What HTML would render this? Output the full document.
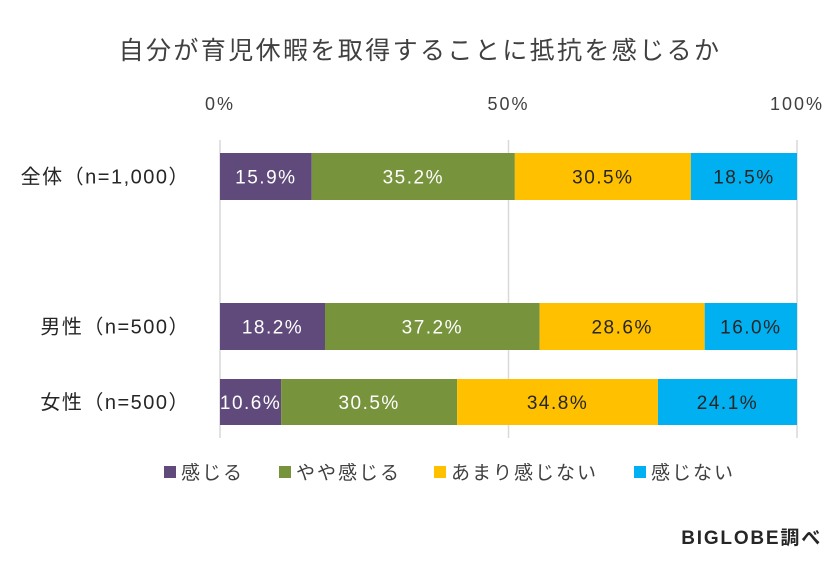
<!DOCTYPE html>
<html><head><meta charset="utf-8"><style>
body{margin:0;background:#fff}
svg text{font-family:"Liberation Sans","Noto Sans CJK JP",sans-serif}
</style></head><body>
<svg id="c" width="840" height="560" viewBox="0 0 840 560">
<rect width="840" height="560" fill="#fff"/>
<text x="420" y="59" text-anchor="middle" font-size="25" letter-spacing="2.4" fill="#404040">自分が育児休暇を取得することに抵抗を感じるか</text>
<g id="grid"></g><g id="bars"></g><g id="legend"></g>
<text x="822" y="544" text-anchor="end" font-size="19" letter-spacing="1.8" font-weight="bold" fill="#262626">BIGLOBE調べ</text>
</svg>
<script>
const categories=["全体（n=1,000）","男性（n=500）","女性（n=500）"];
const seriesNames=["感じる","やや感じる","あまり感じない","感じない"];
const s1=[15.9,18.2,10.6];
const s2=[35.2,37.2,30.5];
const s3=[30.5,28.6,34.8];
const s4=[18.5,16.0,24.1];
const ticks=[0,50,100];
const colors=["#604a7b","#77933c","#ffc000","#00b0f0"];
const textColors=["#fff","#fff","#262626","#262626"];
const series=[s1,s2,s3,s4];
const ns="http://www.w3.org/2000/svg";
const x0=220,x1=797;
const xs=v=>x0+(x1-x0)*v/100;
const rowY=[153,303,379],rowH=[47,47,46];
function mk(t,a,p){const e=document.createElementNS(ns,t);for(const k in a)e.setAttribute(k,a[k]);p.appendChild(e);return e;}
const grid=document.getElementById('grid');
ticks.forEach(t=>{
 const l=mk('line',{x1:xs(t),x2:xs(t),y1:140,y2:438,stroke:'#d9d9d9','stroke-width':1.5},grid);
 
 
 const tx=mk('text',{x:xs(t),y:110,'text-anchor':'middle','font-size':18,'letter-spacing':2,fill:'#404040'},grid);
 tx.textContent=t+'%';
 
 
});
const bars=document.getElementById('bars');
categories.forEach((c,i)=>{
 const y=rowY[i],h=rowH[i];
 const lb=mk('text',{x:190,y:y+h/2+7,'text-anchor':'end','font-size':20,'letter-spacing':1.5,fill:'#262626'},bars);
 lb.textContent=c;
 
 
 let acc=0;
 series.forEach((s,j)=>{
  const v=s[i];
  const r=mk('rect',{x:xs(acc),y:y,width:Math.min(xs(acc+v),x1)-xs(acc),height:h,fill:colors[j]},bars);
  
  
  const t=mk('text',{x:(xs(acc)+Math.min(xs(acc+v),x1))/2,y:y+h/2+7,'text-anchor':'middle','font-size':19,'letter-spacing':1.5,fill:textColors[j]},bars);
  t.textContent=v.toFixed(1)+'%';
  
  
  acc+=v;
 });
});
const lg=document.getElementById('legend');
const lx=[164,279,434,634];
seriesNames.forEach((n,j)=>{
 const r=mk('rect',{x:lx[j],y:466,width:12,height:12,fill:colors[j]},lg);
 
 
 const t=mk('text',{x:lx[j]+17,y:479,'font-size':19,'letter-spacing':2,fill:'#404040'},lg);
 t.textContent=n;
 
 
});
</script>
</body></html>
